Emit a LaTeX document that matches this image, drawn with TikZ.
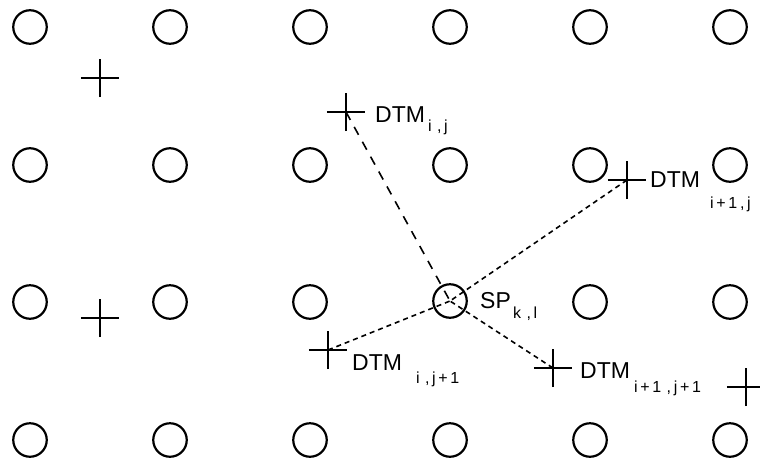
\documentclass[tikz,border=0pt]{standalone}
\usepackage{fontspec}
\setmainfont{Liberation Sans}
\usetikzlibrary{shapes.misc}
\tikzset{
  gridpt/.style={circle, draw, line width=2.2pt, minimum size=33.5pt, inner sep=0pt},
  dtmpt/.style={cross out, draw, line width=1.5pt, rotate=45, minimum size=25.5pt, inner sep=0pt},
  lbl/.style={anchor=base west, inner sep=0pt, font=\fontsize{23}{23}\selectfont},
  sub/.style={anchor=base west, inner sep=0pt, font=\fontsize{16}{16}\selectfont},
  longdash/.style={line width=1.6pt, dash pattern=on 9pt off 8pt},
  shortdash/.style={line width=1.6pt, dash pattern=on 5pt off 4pt},
}
\begin{document}
\begin{tikzpicture}[x=1pt, y=-1pt]
\useasboundingbox (0,0) rectangle (760,461);

% regular grid of points
\foreach \r/\y in {1/27, 2/165, 3/302, 4/440}{
  \foreach \c/\x in {1/30, 2/170, 3/310, 4/450, 5/590, 6/730}{
    \ifnum\r=3 \ifnum\c=4 \else
      \node[gridpt] (g\r\c) at (\x,\y) {};
    \fi\else
      \node[gridpt] (g\r\c) at (\x,\y) {};
    \fi
  }
}
% the point being interpolated
\node[gridpt] (sp) at (450,301) {};

% DTM points
\node[dtmpt] (m1) at (100,78) {};
\node[dtmpt] (m2) at (100,318) {};
\node[dtmpt] (m3) at (746,387) {};
\node[dtmpt] (dij) at (346,112) {};
\node[dtmpt] (dinj) at (627,180) {};
\node[dtmpt] (dijn) at (328,350) {};
\node[dtmpt] (dinjn) at (553,368) {};

% connections to the interpolated point
\draw[longdash] (dij.center) -- (sp.center);
\draw[shortdash] (dinj.center) -- (sp.center);
\draw[shortdash] (dijn.center) -- (sp.center);
\draw[shortdash] (dinjn.center) -- (sp.center);

% labels
\node[lbl] (lij) at (375,122) {DTM};
\node[sub] (sij) at (428,131) {i\,\,,\,j};
\node[lbl] (linj) at (650,187) {DTM};
\node[sub] (sinj) at (710,208) {i\,+\,1\,,\,j};
\node[lbl] (lsp) at (480,308) {SP};
\node[sub] (ssp) at (513,318) {k\,\,,\,l};
\node[lbl] (lijn) at (352,370) {DTM};
\node[sub] (sijn) at (416,383) {i\,\,,\,j\,+\,1};
\node[lbl] (linjn) at (580,378) {DTM};
\node[sub] (sinjn) at (634,392) {i\,+\,1\,\,,\,j\,+\,1};
\end{tikzpicture}
\end{document}
